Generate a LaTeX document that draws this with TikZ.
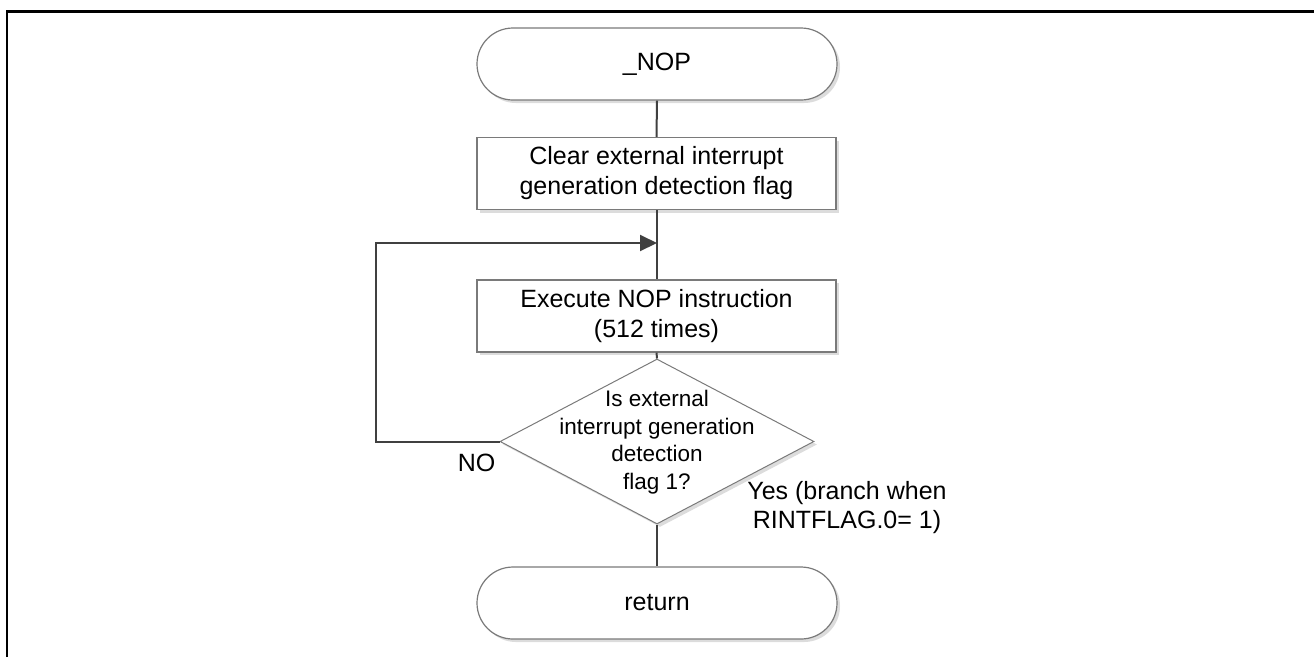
\documentclass[tikz,border=0pt]{standalone}
\usepackage{fontspec}
\setmainfont{Liberation Sans}
\usetikzlibrary{shapes.geometric,arrows.meta,shadows}
\definecolor{edgegray}{HTML}{7A7A7A}
\definecolor{linegray}{HTML}{404040}
\definecolor{shadowgray}{HTML}{DCDCDC}
\tikzset{
  shadowed/.style={drop shadow={shadow xshift=3pt,shadow yshift=-3pt,fill=shadowgray,opacity=1}},
  terminal/.style={draw=edgegray,line width=1.2pt,fill=white,rectangle,rounded corners=36pt,
    minimum width=360pt,minimum height=72pt,inner sep=0pt,shadowed,
    font=\fontsize{25}{30}\selectfont},
  procbox/.style={draw=edgegray,line width=1.2pt,fill=white,rectangle,
    minimum width=359pt,minimum height=72pt,inner sep=0pt,align=center,shadowed,
    font=\fontsize{25}{30}\selectfont},
  decision/.style={draw=edgegray,line width=1pt,fill=white,diamond,
    minimum width=314pt,minimum height=165pt,inner sep=0pt,aspect=1.9,shadowed,
    font=\fontsize{22.5}{27}\selectfont},
  conn/.style={draw=linegray,line width=2pt},
  lbl/.style={font=\fontsize{25}{29}\selectfont,align=center,inner sep=0pt},
}
\begin{document}
\begin{tikzpicture}[x=1pt,y=-1pt]
\useasboundingbox (0,0) rectangle (1314,657);
% frame
\draw[line width=2.6pt,black] (7,657) -- (7,11.3) -- (1314,11.3);

\node[terminal] (start) at (657,64) {\_NOP};
\node[procbox] (clear) at (656.5,173.5) {Clear external interrupt\\generation detection flag};
\node[procbox] (exec) at (656.5,316) {Execute NOP instruction\\(512 times)};
\node[decision] (dec) at (657,441.5) {};
\node[font=\fontsize{22.5}{27.5}\selectfont,align=center,inner sep=0pt] (dectext) at (657,442) {Is external\\interrupt generation\\detection\\flag 1?};
\node[terminal] (ret) at (657,603) {return};

\coordinate (merge) at (657,243);
\coordinate (loopbl) at (376,441.5);
\coordinate (looptl) at (376,243);

\draw[conn] (start.south) -- (clear.north);
\draw[conn] (clear.south) -- (exec.north);
\draw[conn] (exec.south) -- (dec.north);
\draw[conn] (dec.south) -- (ret.north);
\draw[conn,-{Triangle[length=17pt,width=16pt]}] (dec.west) -- (loopbl) -- (looptl) -- (merge);

\node[lbl] (no) at (476.5,462.5) {NO};
\node[lbl] (yes) at (847,508) {Yes (branch when\\RINTFLAG.0= 1)};
\end{tikzpicture}
\end{document}
